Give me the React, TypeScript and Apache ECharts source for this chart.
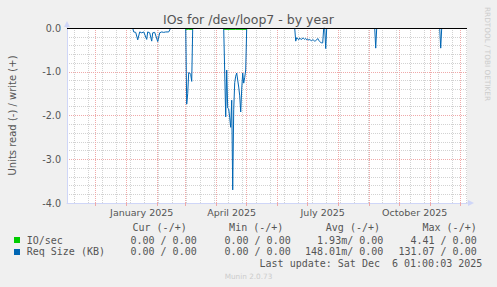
import React, { useEffect, useRef } from 'react';
import * as echarts from 'echarts';

const DAY = 86400000;
const toTime = (s: string) => {
  const [y, m, d] = s.split('-').map(Number);
  return new Date(y, m - 1, d).getTime();
};

// time window (400 days, munin "by year")
const X_MIN = new Date(2024, 10, 2, 7).getTime();
const X_MAX = X_MIN + 400 * DAY;

const MONTH_STARTS = [
  '2024-12-01', '2025-01-01', '2025-02-01', '2025-03-01', '2025-04-01', '2025-05-01', '2025-06-01',
  '2025-07-01', '2025-08-01', '2025-09-01', '2025-10-01', '2025-11-01', '2025-12-01',
];
const MINOR_FIRST = '2024-11-10';
const MINOR_STEP_DAYS = 14;

const LABEL_DATES = ['2025-01-16', '2025-04-16', '2025-07-16', '2025-10-16'];
const X_LABELS = ['January 2025', 'April 2025', 'July 2025', 'October 2025'];

const Y_MIN = -4;
const Y_MAX = 0;
const Y_STEP = 1;

// Req Size (KB), read side (negative)
const REQ_DATES = [
  '2025-01-07', '2025-01-08', '2025-01-10', '2025-01-12', '2025-01-14', '2025-01-16', '2025-01-18',
  '2025-01-21', '2025-01-22', '2025-01-24', '2025-01-26', '2025-01-27', '2025-01-29', '2025-02-01',
  '2025-02-03', '2025-02-05', '2025-02-07', '2025-02-09', '2025-02-12', '2025-02-14', '2025-02-20',
  '2025-03-01', '2025-03-02', '2025-03-03', '2025-03-04', '2025-03-05', '2025-03-06', '2025-03-07',
  '2025-03-08', '2025-03-20',
  '2025-04-08', '2025-04-10', '2025-04-11', '2025-04-12', '2025-04-13', '2025-04-14', '2025-04-15',
  '2025-04-16', '2025-04-17', '2025-04-18', '2025-04-19', '2025-04-20', '2025-04-21', '2025-04-22',
  '2025-04-23', '2025-04-24', '2025-04-25', '2025-04-26', '2025-04-27', '2025-04-28', '2025-04-29',
  '2025-04-30', '2025-05-01', '2025-05-20',
  '2025-06-18', '2025-06-19', '2025-06-20', '2025-06-21', '2025-06-22', '2025-06-23', '2025-06-24',
  '2025-06-25', '2025-06-26', '2025-06-27', '2025-06-28', '2025-06-29', '2025-06-30', '2025-07-01',
  '2025-07-02', '2025-07-03', '2025-07-04', '2025-07-05', '2025-07-06', '2025-07-07', '2025-07-08',
  '2025-07-09', '2025-07-10', '2025-07-11', '2025-07-12', '2025-07-13', '2025-07-14', '2025-07-15',
  '2025-07-16', '2025-07-17', '2025-07-18', '2025-07-19', '2025-07-20', '2025-08-01',
  '2025-09-06', '2025-09-07', '2025-09-08', '2025-09-20',
  '2025-11-10', '2025-11-11', '2025-11-12',
];
const REQ_READ: (number | null)[] = [
  0, -0.09, -0.1, -0.27, -0.09, -0.11, -0.09,
  -0.26, -0.09, -0.11, -0.3, -0.11, -0.1, -0.31,
  -0.11, -0.09, -0.1, -0.09, -0.09, 0, null,
  0, -1.74, -1.5, -1.02, -1.03, -1.06, -1.22,
  0, null,
  0, -2.03, -0.96, -1.83, -1.85, -2.05, -2.27,
  -1.65, -3.7, -1.87, -1.25, -1.1, -1.03, -1.19,
  -1.35, -1.55, -1.92, -1.4, -1.03, -1.26, -1.13,
  -0.96, 0, null,
  0, -0.3, -0.22, -0.25, -0.27, -0.23, -0.25,
  -0.26, -0.23, -0.24, -0.26, -0.24, -0.27, -0.25,
  -0.28, -0.26, -0.28, -0.29, -0.27, -0.28, -0.3,
  -0.29, -0.27, -0.24, -0.28, -0.31, -0.33, -0.34,
  -0.34, 0, 0, -0.47, 0, null,
  0, -0.46, 0, null,
  0, -0.46, 0,
];

// IO/sec, read side
const IO_DATES = ['2025-03-01', '2025-03-04', '2025-03-08', '2025-03-20', '2025-04-08', '2025-04-20', '2025-05-01'];
const IO_READ: (number | null)[] = [-0.03, -0.03, -0.03, null, -0.03, -0.03, -0.03];

const LEGEND_HEADERS = ['Cur (-/+)', 'Min (-/+)', 'Avg (-/+)', 'Max (-/+)'];
const IO_STATS = ['0.00 / 0.00', '0.00 / 0.00', '1.93m/ 0.00', '4.41 / 0.00'];
const REQ_STATS = ['0.00 / 0.00', '0.00 / 0.00', '148.01m/ 0.00', '131.07 / 0.00'];
const LAST_UPDATE = 'Last update: Sat Dec  6 01:00:03 2025';

const C_BLUE = '#0066B3';
const C_GREEN = '#00CC00';
const C_MINOR = '#D2D2D2';
const C_MAJOR = '#EFA9A9';
const C_AXIS = '#CFD6F8';
const C_TEXT = '#555555';
const C_FAINT = '#CCCCCC';
const SANS = 'DejaVu Sans';
const MONO = 'DejaVu Sans Mono';

export default function App() {
  const ref = useRef<HTMLDivElement>(null);
  useEffect(() => {
    if (!ref.current) return;
    const chart = echarts.init(ref.current, null, { renderer: 'svg' });

    const minorTimes: number[] = [];
    for (let t = toTime(MINOR_FIRST); t < X_MAX; t += MINOR_STEP_DAYS * DAY) minorTimes.push(t);
    const monthTimes = MONTH_STARTS.map(toTime);
    const labelTimes = LABEL_DATES.map(toTime);

    const colX = [196.7, 290.7, 383.3, 476.7];
    const headX = [186.7, 283.3, 380, 476.7];
    const graphic: any[] = [
      {
        type: 'text', x: 248.5, y: 19.5,
        style: { text: 'IOs for /dev/loop7 - by year', font: `12.5px "${SANS}"`, fill: C_TEXT, align: 'center', verticalAlign: 'middle' },
      },
      {
        type: 'text', x: 12, y: 115.5, rotation: Math.PI / 2,
        style: { text: 'Units read (-) / write (+)', font: `10px "${SANS}"`, fill: C_TEXT, align: 'center', verticalAlign: 'middle' },
      },
      {
        type: 'text', x: 487, y: 7, rotation: -Math.PI / 2,
        style: { text: 'RRDTOOL / TOBI OETIKER', font: `7.3px "${SANS}"`, fill: C_FAINT, align: 'left', verticalAlign: 'middle' },
      },
      { type: 'line', shape: { x1: 67, y1: 28, x2: 67, y2: 25 }, style: { stroke: C_AXIS, lineWidth: 1 } },
      { type: 'polygon', shape: { points: [[64, 27], [70, 27], [67, 21]] }, style: { fill: C_AXIS } },
      { type: 'line', shape: { x1: 467, y1: 203, x2: 469, y2: 203 }, style: { stroke: C_AXIS, lineWidth: 1 } },
      { type: 'polygon', shape: { points: [[468, 200], [468, 206], [474, 203]] }, style: { fill: C_AXIS } },
      { type: 'rect', shape: { x: 14, y: 237, width: 6, height: 6 }, style: { fill: C_GREEN } },
      { type: 'rect', shape: { x: 14, y: 249, width: 6, height: 6 }, style: { fill: C_BLUE } },
      { type: 'text', x: 26.7, y: 240, style: { text: 'IO/sec', font: `10px "${MONO}"`, fill: C_TEXT, verticalAlign: 'middle' } },
      { type: 'text', x: 26.7, y: 251.7, style: { text: 'Req Size (KB)', font: `10px "${MONO}"`, fill: C_TEXT, verticalAlign: 'middle' } },
      {
        type: 'text', x: 482.3, y: 263.3,
        style: { text: LAST_UPDATE, font: `10px "${MONO}"`, fill: C_TEXT, align: 'right', verticalAlign: 'middle' },
      },
      {
        type: 'text', x: 248.5, y: 276,
        style: { text: 'Munin 2.0.73', font: `7.3px "${SANS}"`, fill: C_FAINT, align: 'center', verticalAlign: 'middle' },
      },
    ];
    LEGEND_HEADERS.forEach((h, i) => {
      graphic.push({ type: 'text', x: headX[i], y: 227.7, style: { text: h, font: `10px "${MONO}"`, fill: C_TEXT, align: 'right', verticalAlign: 'middle' } });
    });
    IO_STATS.forEach((h, i) => {
      graphic.push({ type: 'text', x: colX[i], y: 240, style: { text: h, font: `10px "${MONO}"`, fill: C_TEXT, align: 'right', verticalAlign: 'middle' } });
    });
    REQ_STATS.forEach((h, i) => {
      graphic.push({ type: 'text', x: colX[i], y: 251.7, style: { text: h, font: `10px "${MONO}"`, fill: C_TEXT, align: 'right', verticalAlign: 'middle' } });
    });

    chart.setOption({
      animation: false,
      backgroundColor: '#F0F0F0',
      grid: { left: 67, top: 28, width: 400, height: 175, show: true, backgroundColor: '#FFFFFF', borderWidth: 0, containLabel: false },
      xAxis: [
        {
          type: 'value',
          min: X_MIN,
          max: X_MAX,
          position: 'bottom',
          z: 2,
          axisLine: { show: true, onZero: false, lineStyle: { color: C_AXIS, width: 1 } },
          axisTick: { show: true, customValues: monthTimes, length: 3, inside: false, lineStyle: { color: C_MAJOR, width: 1 } },
          axisLabel: {
            customValues: labelTimes,
            formatter: (v: number) => {
              const i = labelTimes.findIndex((t) => Math.abs(t - v) < DAY / 2);
              return i >= 0 ? X_LABELS[i] : '';
            },
            fontFamily: SANS,
            fontSize: 9.5,
            color: C_TEXT,
            margin: 4,
            hideOverlap: false,
          },
          splitLine: { show: true, lineStyle: { color: C_MAJOR, type: [1, 1], width: 1 } },
        },
        {
          type: 'value',
          min: X_MIN,
          max: X_MAX,
          position: 'top',
          z: 1,
          axisLine: { show: false, onZero: false },
          axisTick: { show: false, customValues: minorTimes },
          axisLabel: { show: false, customValues: minorTimes },
          splitLine: { show: true, lineStyle: { color: C_MINOR, type: [1, 1], width: 1 } },
        },
      ],
      yAxis: {
        type: 'value',
        min: Y_MIN,
        max: Y_MAX,
        interval: Y_STEP,
        axisLine: { show: true, lineStyle: { color: C_AXIS, width: 1 } },
        axisTick: { show: false },
        axisLabel: { formatter: (v: number) => v.toFixed(1), fontFamily: SANS, fontSize: 9.6, color: C_TEXT, margin: 6 },
        splitLine: { show: true, lineStyle: { color: C_MAJOR, type: [1, 1], width: 1 } },
        minorTick: { show: false, splitNumber: 5 },
        minorSplitLine: { show: true, lineStyle: { color: C_MINOR, type: [1, 1], width: 1 } },
      },
      series: [
        {
          name: 'Req Size (KB)',
          type: 'line',
          data: REQ_DATES.map((d, i) => [toTime(d), REQ_READ[i]]),
          showSymbol: false,
          connectNulls: false,
          lineStyle: { color: C_BLUE, width: 1 },
          itemStyle: { color: C_BLUE },
          z: 3,
        },
        {
          name: 'IO/sec',
          type: 'line',
          data: IO_DATES.map((d, i) => [toTime(d), IO_READ[i]]),
          showSymbol: false,
          connectNulls: false,
          lineStyle: { color: C_GREEN, width: 1 },
          itemStyle: { color: C_GREEN },
          z: 4,
        },
        {
          name: 'zero',
          type: 'line',
          data: [],
          z: 5,
          silent: true,
          markLine: {
            silent: true, symbol: ['none', 'none'], label: { show: false }, animation: false,
            data: [{ yAxis: 0 }],
            lineStyle: { color: '#000000', type: 'solid', width: 1 },
          },
        },
      ],
      graphic,
    });
    return () => chart.dispose();
  }, []);
  return <div ref={ref} style={{ position: 'absolute', left: 0, top: 0, width: 497, height: 287 }} />;
}
